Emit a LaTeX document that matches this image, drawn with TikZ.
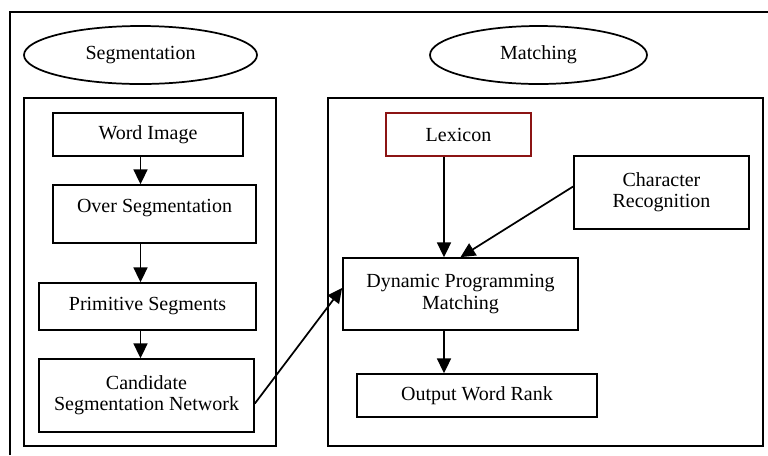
\documentclass[tikz,border=0pt]{standalone}
\usepackage{fontspec}
\setmainfont{Liberation Serif}
\usepackage{tikz}
\usetikzlibrary{arrows.meta,shapes.geometric,calc}
\definecolor{lexred}{RGB}{140,20,20}

\begin{document}
\begin{tikzpicture}[x=0.75pt,y=-0.75pt,
  line width=1.3pt,
  every node/.style={font=\fontsize{15}{16}\selectfont},
  stage/.style={draw,ellipse,inner sep=0pt},
  block/.style={draw,rectangle,inner sep=0pt,align=center},
  arr/.style={-{Triangle[length=11pt,width=10.5pt]}}]
\useasboundingbox (0,0) rectangle (768,455);
% frames
\draw (10,455) -- (10,12) -- (768,12);
\draw (24,98) rectangle (276,446);
\draw (328,98) rectangle (763,446);
% stages
\node[stage,minimum width=174.75pt,minimum height=43.5pt] (seg) at (140.5,55) {Segmentation};
\node[stage,minimum width=162.75pt,minimum height=43.5pt] (match) at (538.5,55) {Matching};
% segmentation side
\node[block,minimum width=142.5pt,minimum height=32.25pt] (word) at (148,134.5) {Word Image};
\node[block,minimum width=152.25pt,minimum height=43.5pt,text depth=12.75pt] (over) at (154.5,214) {Over Segmentation};
\node[block,minimum width=162.75pt,minimum height=35.25pt] (prim) at (147.5,306.5) {Primitive Segments};
\node[block,minimum width=161.25pt,minimum height=54.75pt] (cand) at (146.5,395.5) {Candidate\\Segmentation Network};
% matching side
\coordinate (mcol) at (444,0);
\node[block,draw=lexred,minimum width=108.75pt,minimum height=32.25pt] (lex) at (458.5,134.5) {Lexicon};
\node[block,minimum width=131.25pt,minimum height=54.75pt] (chr) at (661.5,192.5) {Character\\Recognition};
\node[block,minimum width=176.25pt,minimum height=54pt] (dpm) at (460.5,294) {Dynamic Programming\\Matching};
\node[block,minimum width=180pt,minimum height=32.25pt] (owr) at (477,395.5) {Output Word Rank};
% arrows
\draw[arr] (word.south -| seg) -- (over.north -| seg);
\draw[arr] (over.south -| seg) -- (prim.north -| seg);
\draw[arr] (prim.south -| seg) -- (cand.north -| seg);
\draw[arr] ($(cand.east)+(0,8)$) -- ($(dpm.west)+(0,-6)$);
\draw[arr] (lex.south -| mcol) -- (dpm.north -| mcol);
\draw[arr] ($(chr.west)+(0,-6)$) -- (dpm.north);
\draw[arr] (dpm.south -| mcol) -- (owr.north -| mcol);
\end{tikzpicture}
\end{document}
